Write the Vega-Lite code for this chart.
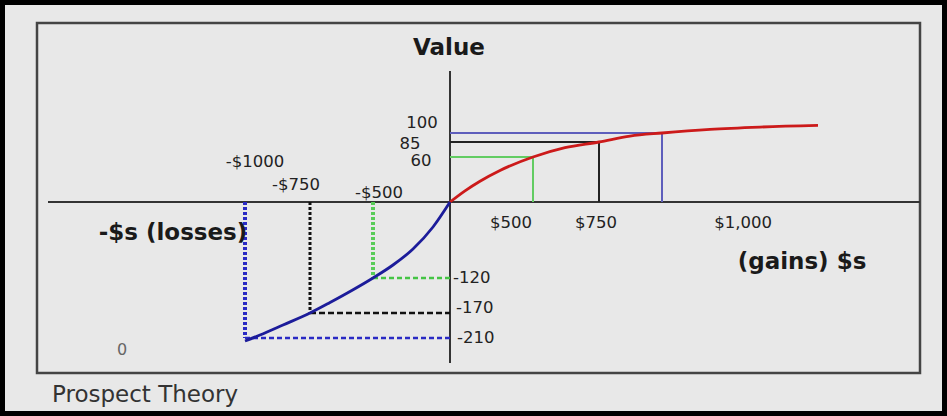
{
  "$schema": "https://vega.github.io/schema/vega-lite/v6.json",
  "width": 947,
  "height": 416,
  "autosize": {"type": "fit", "contains": "padding"},
  "padding": 0,
  "background": "#e8e8e8",
  "config": {
    "view": {"stroke": "#000000", "strokeWidth": 10, "fill": "#e8e8e8"},
    "text": {"font": "DejaVu Sans"}
  },
  "datasets": {
    "frame": [{"x": -2065, "x2": 2350, "y": 268.5, "y2": -256.5}],
    "guides": [
      {"line": "axis", "x": -2010, "x2": 2350, "y": 0, "y2": 0},
      {"line": "axis", "x": 0, "x2": 0, "y": 196.5, "y2": -241.5},
      {"line": "gain-blue", "x": 0, "x2": 1060, "y": 103.5, "y2": 103.5},
      {"line": "gain-blue", "x": 1060, "x2": 1060, "y": 103.5, "y2": 0},
      {"line": "gain-black", "x": 0, "x2": 745, "y": 90, "y2": 90},
      {"line": "gain-black", "x": 745, "x2": 745, "y": 90, "y2": 0},
      {"line": "gain-green", "x": 0, "x2": 415, "y": 67.5, "y2": 67.5},
      {"line": "gain-green", "x": 415, "x2": 415, "y": 67.5, "y2": 0},
      {"line": "loss-blue-v", "x": -1025, "x2": -1025, "y": 0, "y2": -204},
      {"line": "loss-blue-h", "x": -1025, "x2": 0, "y": -204, "y2": -204},
      {"line": "loss-black-v", "x": -700, "x2": -700, "y": 0, "y2": -166.5},
      {"line": "loss-black-h", "x": -700, "x2": 0, "y": -166.5, "y2": -166.5},
      {"line": "loss-green-v", "x": -385, "x2": -385, "y": 0, "y2": -114},
      {"line": "loss-green-h", "x": -385, "x2": 0, "y": -114, "y2": -114}
    ],
    "curves": [
      {"line": "curve-gain", "x": 0, "y": 0},
      {"line": "curve-gain", "x": 75, "y": 16.8},
      {"line": "curve-gain", "x": 150, "y": 31.2},
      {"line": "curve-gain", "x": 250, "y": 47.3},
      {"line": "curve-gain", "x": 415, "y": 67.5},
      {"line": "curve-gain", "x": 575, "y": 81.5},
      {"line": "curve-gain", "x": 745, "y": 90},
      {"line": "curve-gain", "x": 900, "y": 98.9},
      {"line": "curve-gain", "x": 1060, "y": 103.5},
      {"line": "curve-gain", "x": 1300, "y": 109},
      {"line": "curve-gain", "x": 1550, "y": 112.4},
      {"line": "curve-gain", "x": 1840, "y": 114.8},
      {"line": "curve-loss", "x": 0, "y": 0},
      {"line": "curve-loss", "x": -85, "y": -37.5},
      {"line": "curve-loss", "x": -185, "y": -70.5},
      {"line": "curve-loss", "x": -285, "y": -94.5},
      {"line": "curve-loss", "x": -385, "y": -114},
      {"line": "curve-loss", "x": -500, "y": -134.25},
      {"line": "curve-loss", "x": -600, "y": -150.75},
      {"line": "curve-loss", "x": -700, "y": -166.5},
      {"line": "curve-loss", "x": -835, "y": -184.5},
      {"line": "curve-loss", "x": -950, "y": -199.5},
      {"line": "curve-loss", "x": -1025, "y": -208.5}
    ]
  },
  "encoding": {
    "x": {"type": "quantitative", "scale": {"domain": [-2250, 2485], "nice": false, "zero": false}, "axis": null},
    "y": {"type": "quantitative", "scale": {"domain": [-321, 303], "nice": false, "zero": false}, "axis": null}
  },
  "layer": [
    {
      "data": {"name": "frame"},
      "mark": {"type": "rect", "fill": "transparent", "stroke": "#444444", "strokeWidth": 2.5},
      "encoding": {
        "x": {"field": "x", "type": "quantitative"},
        "x2": {"field": "x2"},
        "y": {"field": "y", "type": "quantitative"},
        "y2": {"field": "y2"}
      }
    },
    {
      "data": {"name": "guides"},
      "transform": [{"filter": {"field": "line", "oneOf": ["axis", "gain-blue", "gain-black", "gain-green"]}}],
      "mark": {"type": "rule", "strokeWidth": 2},
      "encoding": {
        "x": {"field": "x", "type": "quantitative"},
        "x2": {"field": "x2"},
        "y": {"field": "y", "type": "quantitative"},
        "y2": {"field": "y2"},
        "color": {
          "field": "line", "type": "nominal", "legend": null,
          "scale": {
            "domain": ["axis", "gain-blue", "gain-black", "gain-green", "curve-gain", "curve-loss"],
            "range": ["#333333", "#5e5ebc", "#222222", "#62cc62", "#cc1a1a", "#1c1c9a"]
          }
        }
      }
    },
    {
      "data": {"name": "guides"},
      "transform": [{"filter": {"field": "line", "equal": "loss-blue-v"}}],
      "mark": {"type": "rule", "strokeWidth": 4, "strokeDash": [3, 2], "color": "#2a2ac4"},
      "encoding": {
        "x": {"field": "x", "type": "quantitative"},
        "x2": {"field": "x2"},
        "y": {"field": "y", "type": "quantitative"},
        "y2": {"field": "y2"}
      }
    },
    {
      "data": {"name": "guides"},
      "transform": [{"filter": {"field": "line", "equal": "loss-blue-h"}}],
      "mark": {"type": "rule", "strokeWidth": 2.5, "strokeDash": [5, 3], "color": "#2a2ac4"},
      "encoding": {
        "x": {"field": "x", "type": "quantitative"},
        "x2": {"field": "x2"},
        "y": {"field": "y", "type": "quantitative"},
        "y2": {"field": "y2"}
      }
    },
    {
      "data": {"name": "guides"},
      "transform": [{"filter": {"field": "line", "equal": "loss-black-v"}}],
      "mark": {"type": "rule", "strokeWidth": 3, "strokeDash": [3, 2], "color": "#111111"},
      "encoding": {
        "x": {"field": "x", "type": "quantitative"},
        "x2": {"field": "x2"},
        "y": {"field": "y", "type": "quantitative"},
        "y2": {"field": "y2"}
      }
    },
    {
      "data": {"name": "guides"},
      "transform": [{"filter": {"field": "line", "equal": "loss-black-h"}}],
      "mark": {"type": "rule", "strokeWidth": 2.5, "strokeDash": [6, 3], "color": "#111111"},
      "encoding": {
        "x": {"field": "x", "type": "quantitative"},
        "x2": {"field": "x2"},
        "y": {"field": "y", "type": "quantitative"},
        "y2": {"field": "y2"}
      }
    },
    {
      "data": {"name": "guides"},
      "transform": [{"filter": {"field": "line", "equal": "loss-green-v"}}],
      "mark": {"type": "rule", "strokeWidth": 4, "strokeDash": [3, 2], "color": "#58cc58"},
      "encoding": {
        "x": {"field": "x", "type": "quantitative"},
        "x2": {"field": "x2"},
        "y": {"field": "y", "type": "quantitative"},
        "y2": {"field": "y2"}
      }
    },
    {
      "data": {"name": "guides"},
      "transform": [{"filter": {"field": "line", "equal": "loss-green-h"}}],
      "mark": {"type": "rule", "strokeWidth": 2.5, "strokeDash": [5, 3], "color": "#44c444"},
      "encoding": {
        "x": {"field": "x", "type": "quantitative"},
        "x2": {"field": "x2"},
        "y": {"field": "y", "type": "quantitative"},
        "y2": {"field": "y2"}
      }
    },
    {
      "data": {"name": "curves"},
      "mark": {"type": "line", "interpolate": "monotone", "strokeWidth": 2.8},
      "encoding": {
        "x": {"field": "x", "type": "quantitative"},
        "y": {"field": "y", "type": "quantitative"},
        "detail": {"field": "line"},
        "color": {
          "field": "line", "type": "nominal", "legend": null,
          "scale": {
            "domain": ["axis", "gain-blue", "gain-black", "gain-green", "curve-gain", "curve-loss"],
            "range": ["#333333", "#5e5ebc", "#222222", "#62cc62", "#cc1a1a", "#1c1c9a"]
          }
        }
      }
    },
    {
      "data": {"values": [
        {"label": "Value", "x": -5, "y": 220.5},
        {"label": "-$s (losses)", "x": -1385, "y": -57},
        {"label": "(gains) $s", "x": 1760, "y": -100.5}
      ]},
      "mark": {"type": "text", "align": "center", "baseline": "alphabetic", "fontWeight": "bold", "fontSize": 23, "color": "#1a1a1a"},
      "encoding": {
        "x": {"field": "x", "type": "quantitative"},
        "y": {"field": "y", "type": "quantitative"},
        "text": {"field": "label"}
      }
    },
    {
      "data": {"values": [
        {"label": "100", "x": -140, "y": 111},
        {"label": "85", "x": -200, "y": 79.5},
        {"label": "60", "x": -145, "y": 54},
        {"label": "-$1000", "x": -975, "y": 52.5},
        {"label": "-$750", "x": -770, "y": 18},
        {"label": "-$500", "x": -355, "y": 6},
        {"label": "$500", "x": 305, "y": -39},
        {"label": "$750", "x": 730, "y": -39},
        {"label": "$1,000", "x": 1465, "y": -39}
      ]},
      "mark": {"type": "text", "align": "center", "baseline": "alphabetic", "fontSize": 16.5, "color": "#222222"},
      "encoding": {
        "x": {"field": "x", "type": "quantitative"},
        "y": {"field": "y", "type": "quantitative"},
        "text": {"field": "label"}
      }
    },
    {
      "data": {"values": [
        {"label": "-120", "x": 15, "y": -121.5},
        {"label": "-170", "x": 30, "y": -166.5},
        {"label": "-210", "x": 35, "y": -211.5}
      ]},
      "mark": {"type": "text", "align": "left", "baseline": "alphabetic", "fontSize": 16.5, "color": "#222222"},
      "encoding": {
        "x": {"field": "x", "type": "quantitative"},
        "y": {"field": "y", "type": "quantitative"},
        "text": {"field": "label"}
      }
    },
    {
      "data": {"values": [
        {"label": "0", "x": -1640, "y": -229.5}
      ]},
      "mark": {"type": "text", "align": "center", "baseline": "alphabetic", "fontSize": 16, "color": "#666666"},
      "encoding": {
        "x": {"field": "x", "type": "quantitative"},
        "y": {"field": "y", "type": "quantitative"},
        "text": {"field": "label"}
      }
    },
    {
      "data": {"values": [
        {"label": "Prospect Theory", "x": -1990, "y": -300}
      ]},
      "mark": {"type": "text", "align": "left", "baseline": "alphabetic", "fontSize": 23, "color": "#333333"},
      "encoding": {
        "x": {"field": "x", "type": "quantitative"},
        "y": {"field": "y", "type": "quantitative"},
        "text": {"field": "label"}
      }
    }
  ]
}
